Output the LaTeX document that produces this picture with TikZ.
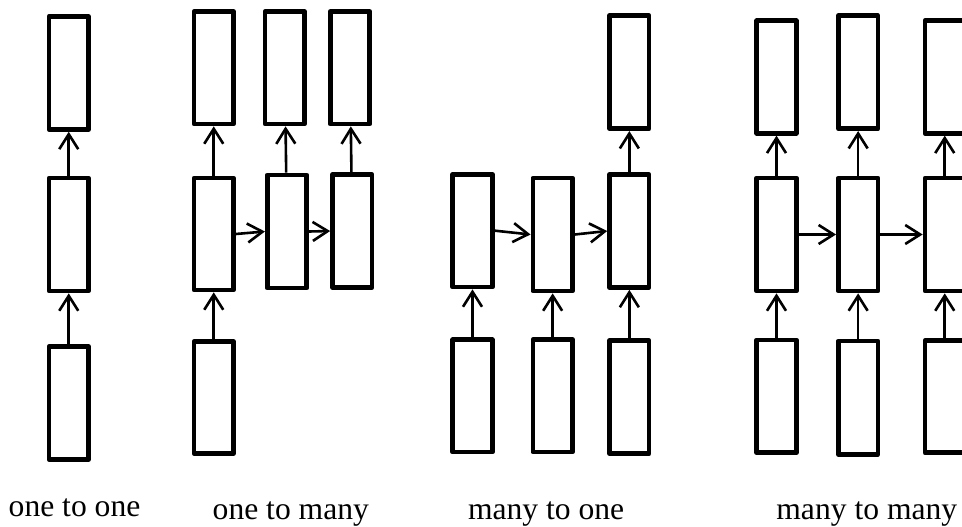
\documentclass[tikz,border=0pt]{standalone}
\usepackage{fontspec}
\setmainfont{Liberation Serif}
\usetikzlibrary{arrows.meta}
\begin{document}
\begin{tikzpicture}[x=1pt,y=-1pt,
  cell/.style={draw=black, line width=4.7pt, line join=round, fill=white,
    rectangle, inner sep=0pt, minimum width=39.5pt, minimum height=113pt},
  link/.style={draw=black, line width=2.6pt,
    -{Straight Barb[length=15pt, width=19pt, line width=2.6pt]}},
  caption/.style={anchor=base west, inner sep=0pt, font=\fontsize{31.6}{38}\selectfont}]
\path[use as bounding box, clip] (0,0) rectangle (962,527);
% one to one
\node[cell] (a1) at (68.75,72.9) {};
\node[cell] (a2) at (68.75,234.5) {};
\node[cell] (a3) at (68.75,403) {};
\draw[link] (a3) -- (a2);
\draw[link] (a2) -- (a1);
% one to many
\node[cell, minimum height=112.5pt] (b1t) at (213.75,67.75) {};
\node[cell, minimum height=112pt] (b1m) at (213.75,234) {};
\node[cell, minimum height=112pt] (b1b) at (213.75,397.5) {};
\node[cell, minimum height=112.5pt] (b2t) at (284.75,67.75) {};
\node[cell] (b2m) at (287,231.5) {};
\node[cell, minimum height=112.5pt] (b3t) at (350,67.75) {};
\node[cell] (b3m) at (352.25,231) {};
\draw[link] (b1b) -- (b1m);
\draw[link] (b1m) -- (b1t);
\draw[link] (b2m) -- (b2t);
\draw[link] (b3m) -- (b3t);
\draw[link] (b1m.east) -- (b2m.west);
\draw[link] (b2m.east) -- (b3m.west);
% many to one
\node[cell, minimum height=112.7pt] (c1m) at (472.5,230.65) {};
\node[cell, minimum height=112.3pt] (c1b) at (472.5,395.85) {};
\node[cell] (c2m) at (552.65,234.5) {};
\node[cell, minimum height=112.3pt] (c2b) at (552.65,395.85) {};
\node[cell] (c3t) at (629.35,72.2) {};
\node[cell] (c3m) at (629.35,231) {};
\node[cell] (c3b) at (629.35,397.2) {};
\draw[link] (c1b) -- (c1m);
\draw[link] (c2b) -- (c2m);
\draw[link] (c3b) -- (c3m);
\draw[link] (c3m) -- (c3t);
\draw[link] (c1m.east) -- (c2m.west);
\draw[link] (c2m.east) -- (c3m.west);
% many to many
\node[cell, minimum height=112.6pt] (d1t) at (776.5,77) {};
\node[cell] (d1m) at (776.5,234.5) {};
\node[cell, minimum height=112.7pt] (d1b) at (776.5,396.35) {};
\node[cell] (d2t) at (858.15,72.2) {};
\node[cell] (d2m) at (858.15,234.5) {};
\node[cell, minimum height=113.3pt] (d2b) at (858.15,397.65) {};
\node[cell, minimum height=112.6pt] (d3t) at (944.75,77) {};
\node[cell] (d3m) at (944.75,234.5) {};
\node[cell, minimum height=112pt] (d3b) at (944.75,396.7) {};
\draw[link] (d1b) -- (d1m);
\draw[link] (d2b) -- (d2m);
\draw[link] (d3b) -- (d3m);
\draw[link] (d1m) -- (d1t);
\draw[link] (d2m) -- (d2t);
\draw[link] (d3m) -- (d3t);
\draw[link] (d1m.east) -- (d2m.west);
\draw[link] (d2m.east) -- (d3m.west);
% captions
\node[caption] (t1) at (8.5,516) {one to one};
\node[caption] (t2) at (212.5,519.3) {one to many};
\node[caption] (t3) at (467.8,519.5) {many to one};
\node[caption] (t4) at (776.2,519.5) {many to many};
\end{tikzpicture}
\end{document}
